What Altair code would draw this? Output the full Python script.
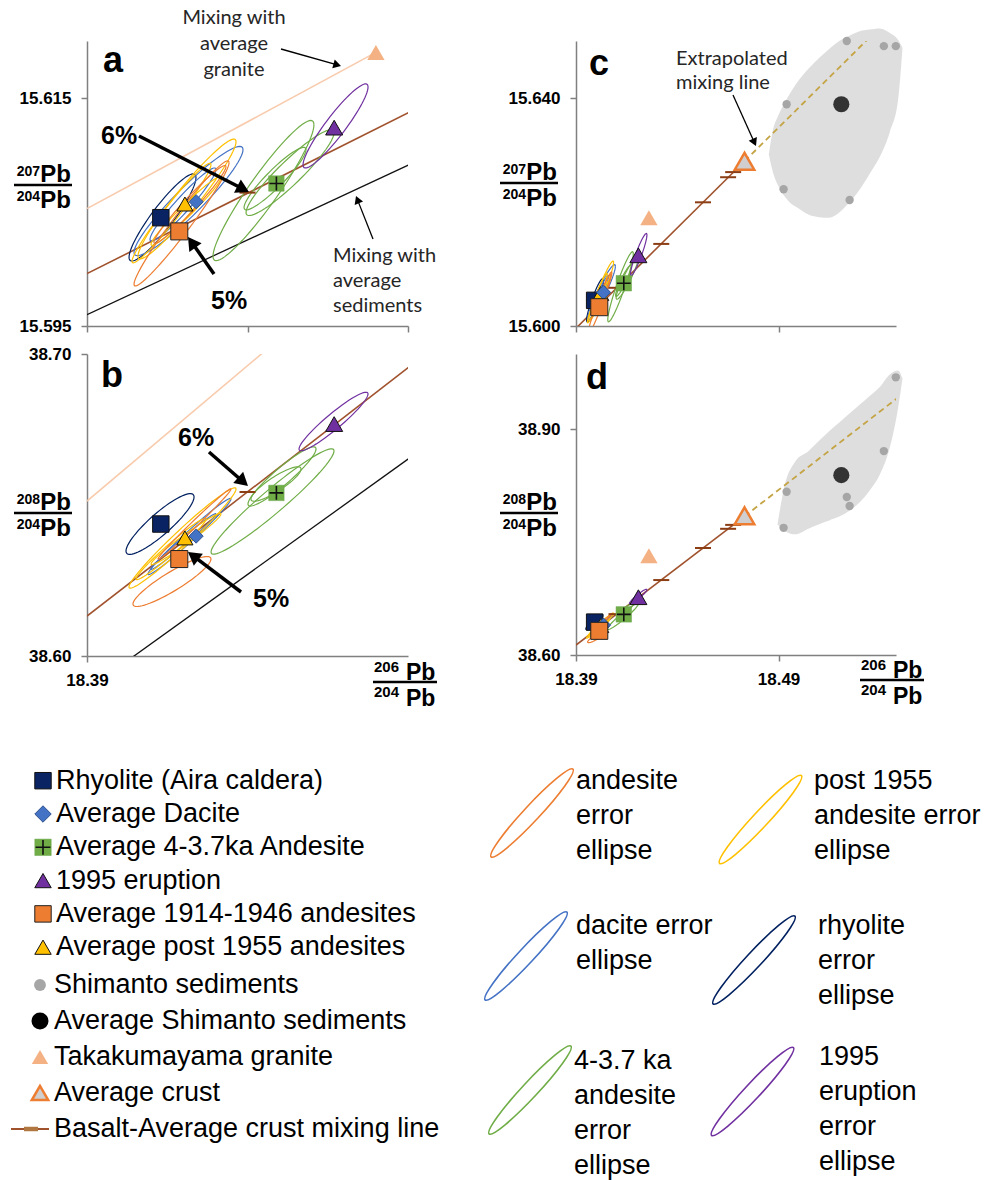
import math
import numpy as np
import pandas as pd
import altair as alt

# ---------------- values ----------------
sample_names = ["Rhyolite (Aira caldera)", "Average Dacite", "Average 4-3.7ka Andesite",
                "1995 eruption", "Average 1914-1946 andesites", "Average post 1955 andesites"]
sample_x = [18.3992, 18.4036, 18.4136, 18.4208, 18.4015, 18.4022]
sample_y207 = [15.6045, 15.6059, 15.6075, 15.6124, 15.6033, 15.6057]
sample_y208 = [38.6437, 38.6397, 38.6540, 38.6768, 38.6321, 38.6391]

sed_x = [18.4925, 18.4940, 18.5237, 18.5251, 18.5420, 18.5479]
sed_y207 = [15.6240, 15.6389, 15.6500, 15.6221, 15.6491, 15.6491]
sed_y208 = [38.769, 38.817, 38.810, 38.798, 38.871, 38.969]

avg_sed_x = [18.5210]
avg_sed_y207 = [15.6389]
avg_sed_y208 = [38.8390]
granite_x = [18.4260]
granite_y207 = [15.6190]
granite_y208 = [38.7320]
crust_x = [18.4732]
crust_y207 = [15.6289]
crust_y208 = [38.7850]

# mixing lines
mix_x = [18.3900, 18.4732]
mix_y207 = [15.5996, 15.6289]
mix_y208 = [38.6132, 38.7843]
extrap_x = [18.4732, 18.5494]
extrap_y207 = [15.6289, 15.6557]
extrap_y208 = [38.7843, 38.9430]
granite_mix_x = [18.3900, 18.4260]
granite_mix_y207 = [15.6053, 15.6190]
granite_mix_y208 = [38.6513, 38.7320]
sed_mix_x = [18.3900, 18.5210]
sed_mix_y207 = [15.5960, 15.6389]
sed_mix_y208 = [38.5888, 38.8390]
mix_tick_x = [18.4100, 18.4321, 18.4527, 18.4651, 18.4676]
mix_tick_y207 = [15.6067, 15.6144, 15.6217, 15.6261, 15.6270]
mix_tick_y208 = [38.6543, 38.6996, 38.7422, 38.7677, 38.7729]

# grey field around the Shimanto sediments
blob207_x = [18.4852, 18.4870, 18.4900, 18.4950, 18.5000, 18.5050, 18.5100, 18.5150, 18.5200,
             18.5250, 18.5300, 18.5350, 18.5400, 18.5450, 18.5490, 18.5512]
blob207_hi = [15.6301, 15.6340, 15.6370, 15.6404, 15.6431, 15.6452, 15.6470, 15.6486, 15.6500,
              15.6509, 15.6517, 15.6520, 15.6522, 15.6514, 15.6502, 15.6488]
blob207_lo = [15.6301, 15.6273, 15.6245, 15.6219, 15.6206, 15.6195, 15.6191, 15.6190, 15.6199,
              15.6217, 15.6239, 15.6267, 15.6297, 15.6341, 15.6396, 15.6488]
blob208_x = [18.4895, 18.4931, 18.4981, 18.5050, 18.5100, 18.5150, 18.5200, 18.5250, 18.5300,
             18.5350, 18.5400, 18.5450, 18.5490, 18.5512]
blob208_hi = [38.7735, 38.8264, 38.8566, 38.8714, 38.8848, 38.8974, 38.9091, 38.9208, 38.9325,
              38.9441, 38.9562, 38.9732, 38.9782, 38.9674]
blob208_lo = [38.7735, 38.7648, 38.7603, 38.7682, 38.7739, 38.7789, 38.7839, 38.7916, 38.8028,
              38.8185, 38.8398, 38.8764, 38.9280, 38.9674]

# error ellipses: centre, half major-axis vector, vertical half-offset
ell_group = ["rhyolite", "dacite", "dacite", "post1955", "post1955", "post1955",
             "andesite", "andesite", "ka", "ka", "ka", "1995"]
ell207_cx = [18.39941, 18.40265, 18.40196, 18.40246, 18.40053, 18.40234, 18.40178, 18.40283, 18.41199, 18.41530, 18.41343, 18.42097]
ell207_cy = [15.60452, 15.60596, 15.60566, 15.60614, 15.60491, 15.60509, 15.60400, 15.60566, 15.60688, 15.60845, 15.60793, 15.61255]
ell207_ux = [0.00417, 0.00679, 0.00411, 0.00611, 0.00492, 0.00436, 0.00592, 0.00449, 0.00629, 0.00548, 0.00386, 0.00405]
ell207_uy = [0.00349, 0.00450, 0.00306, 0.00502, 0.00424, 0.00293, 0.00533, 0.00332, 0.00576, 0.00349, 0.00253, 0.00341]
ell207_vh = [0.00155, 0.00165, 0.00095, 0.00155, 0.00105, 0.00070, 0.00130, 0.00082, 0.00215, 0.00140, 0.00105, 0.00140]
ell208_cx = [18.39910, 18.40277, 18.40202, 18.40190, 18.40047, 18.40234, 18.40059, 18.40340, 18.41312, 18.41430, 18.41355, 18.42072]
ell208_cy = [38.64371, 38.63957, 38.63791, 38.63907, 38.63543, 38.63874, 38.62467, 38.64371, 38.65116, 38.65944, 38.65695, 38.67765]
ell208_ux = [0.00424, 0.00517, 0.00405, 0.00667, 0.00436, 0.00436, 0.00486, 0.00455, 0.00766, 0.00424, 0.00312, 0.00430]
ell208_uy = [0.00894, 0.01242, 0.00910, 0.01623, 0.00993, 0.00828, 0.00745, 0.01159, 0.01672, 0.00911, 0.00497, 0.00911]
ell208_vh = [0.0046, 0.0022, 0.0014, 0.0036, 0.0022, 0.0018, 0.0036, 0.0014, 0.0050, 0.0036, 0.0028, 0.0033]

legend_labels = ["Rhyolite (Aira caldera)", "Average Dacite", "Average 4-3.7ka Andesite", "1995 eruption",
                 "Average 1914-1946 andesites", "Average post 1955 andesites", "Shimanto sediments",
                 "Average Shimanto sediments", "Takakumayama granite", "Average crust",
                 "Basalt-Average crust mixing line"]
ellipse_legend_groups = ["andesite", "dacite", "ka", "post1955", "rhyolite", "1995"]
ellipse_legend_text = [["andesite", "error", "ellipse"], ["dacite error", "ellipse"],
                       ["4-3.7 ka", "andesite", "error", "ellipse"],
                       ["post 1955", "andesite error", "ellipse"], ["rhyolite", "error", "ellipse"],
                       ["1995", "eruption", "error", "ellipse"]]

# ---------------- styles ----------------
ELL_DOMAIN = ["rhyolite", "dacite", "post1955", "andesite", "ka", "1995"]
ELL_RANGE = ["#002060", "#4472C4", "#FFC000", "#ED7D31", "#70AD47", "#7030A0"]
ELL_COL = dict(zip(ELL_DOMAIN, ELL_RANGE))
PLUS = "M-1,0L1,0M0,-1L0,1"
DASH = "M-1,0L1,0"
STY = {
    "Rhyolite (Aira caldera)": dict(shape="square", fill="#0A2463", stroke="#111111", sw=1.0, size=270),
    "Average Dacite": dict(shape="diamond", fill="#4472C4", stroke="#2F528F", sw=1.0, size=200),
    "Average 4-3.7ka Andesite": dict(shape="square", fill="#70AD47", stroke="#6AA84F", sw=0.5, size=240, plus=True),
    "1995 eruption": dict(shape="triangle-up", fill="#7030A0", stroke="#111111", sw=1.0, size=290),
    "Average 1914-1946 andesites": dict(shape="square", fill="#ED7D31", stroke="#222222", sw=1.0, size=290),
    "Average post 1955 andesites": dict(shape="triangle-up", fill="#FFC000", stroke="#111111", sw=1.0, size=260),
    "Shimanto sediments": dict(shape="circle", fill="#A6A6A6", size=70),
    "Average Shimanto sediments": dict(shape="circle", fill="#333333", size=260),
    "Takakumayama granite": dict(shape="triangle-up", fill="#F4B183", size=300),
    "Average crust": dict(shape="triangle-up", fill="#D0CECE", stroke="#ED7D31", sw=2.5, size=380),
}
FONT = "Liberation Sans"
ANN_FONT = "Lato"

one = pd.DataFrame({"k": [0]})


def txt(s, x, y, size, weight="normal", align="left", baseline="alphabetic", font=FONT,
        color="#000000", lh=None):
    kw = dict(text=s, align=align, baseline=baseline, fontSize=size, fontWeight=weight,
              font=font, color=color)
    if lh is not None:
        kw["lineHeight"] = lh
    return alt.Chart(one).mark_text(**kw).encode(x=alt.value(x), y=alt.value(y))


def hrule(x1, x2, y, w, color="#000000"):
    return alt.Chart(one).mark_rule(color=color, strokeWidth=w).encode(
        x=alt.value(x1), x2=alt.value(x2), y=alt.value(y))


def arrow(x1, y1, x2, y2, w, head, color="#000000"):
    dx, dy = x2 - x1, y2 - y1
    L = math.hypot(dx, dy)
    ux, uy = dx / L, dy / L
    off = 0.433 * head
    cx, cy = x2 - ux * off, y2 - uy * off
    ang = math.degrees(math.atan2(ux, -uy)) % 360
    line = alt.Chart(one).mark_rule(color=color, strokeWidth=w).encode(
        x=alt.value(x1), y=alt.value(y1), x2=alt.value(cx), y2=alt.value(cy))
    hd = alt.Chart(one).mark_point(shape="triangle-up", filled=True, fill=color, size=head * head,
                                   angle=ang, opacity=1, strokeOpacity=0).encode(
        x=alt.value(cx), y=alt.value(cy))
    return [line, hd]


def yfrac(xr, ybar, num):
    return [txt("Pb", xr, ybar - 2.7, 24, "bold", "right"),
            txt(num, xr - 31, ybar - 9.3, 14, "bold", "right"),
            hrule(xr - 57, xr + 1, ybar, 2.5),
            txt("Pb", xr, ybar + 23.3, 24, "bold", "right"),
            txt("204", xr - 31, ybar + 15.7, 14, "bold", "right")]


def xfrac(xl, ybar, num):
    return [txt(num, xl, ybar - 10, 15, "bold"),
            txt("Pb", xl + 32, ybar - 2.5, 23, "bold"),
            hrule(xl - 1, xl + 63, ybar, 2.5),
            txt("204", xl, ybar + 15, 15, "bold"),
            txt("Pb", xl + 32, ybar + 23.5, 23, "bold")]


def ellipse_frame(cx, cy, ux, uy, vh):
    t = np.linspace(0, 2 * np.pi, 73)
    frames = []
    for i in range(len(cx)):
        frames.append(pd.DataFrame({
            "eid": i, "grp": ell_group[i], "k": np.arange(len(t)),
            "x": cx[i] + ux[i] * np.cos(t),
            "y": cy[i] + uy[i] * np.cos(t) + vh[i] * np.sin(t)}))
    return pd.concat(frames, ignore_index=True)


def xy(xs, ys):
    return pd.DataFrame({"x": xs, "y": ys})


def build_panel(xsc, ysc, xax, yax, ykey, show_mix_lines, show_far):
    def E(**extra):
        d = dict(x=alt.X("x:Q", scale=xsc, axis=xax, title=None),
                 y=alt.Y("y:Q", scale=ysc, axis=yax, title=None))
        d.update(extra)
        return d

    is207 = ykey == "207"
    sy = sample_y207 if is207 else sample_y208
    layers = []
    if show_far:
        bx, bhi, blo = (blob207_x, blob207_hi, blob207_lo) if is207 else (blob208_x, blob208_hi, blob208_lo)
        bdf = pd.DataFrame({"x": bx, "hi": bhi, "lo": blo})
        layers.append(alt.Chart(bdf).mark_area(color="#DEDEDE", interpolate="monotone", opacity=1).encode(
            x=alt.X("x:Q", scale=xsc, axis=xax, title=None),
            y=alt.Y("hi:Q", scale=ysc, axis=yax, title=None), y2="lo:Q"))
        layers.append(alt.Chart(xy(extrap_x, extrap_y207 if is207 else extrap_y208)).mark_line(
            color="#C4A445", strokeWidth=1.8, strokeDash=[6, 4], clip=True).encode(**E()))
    if show_mix_lines:
        layers.append(alt.Chart(xy(granite_mix_x, granite_mix_y207 if is207 else granite_mix_y208)).mark_line(
            color="#F8CBAD", strokeWidth=1.6, clip=True).encode(**E()))
        layers.append(alt.Chart(xy(sed_mix_x, sed_mix_y207 if is207 else sed_mix_y208)).mark_line(
            color="#111111", strokeWidth=1.3, clip=True).encode(**E()))
    layers.append(alt.Chart(xy(mix_x, mix_y207 if is207 else mix_y208)).mark_line(
        color="#A0522D", strokeWidth=1.6, clip=True).encode(**E()))
    edf = ellipse_frame(ell207_cx, ell207_cy, ell207_ux, ell207_uy, ell207_vh) if is207 else \
        ellipse_frame(ell208_cx, ell208_cy, ell208_ux, ell208_uy, ell208_vh)
    layers.append(alt.Chart(edf).mark_line(strokeWidth=1.2, clip=True).encode(**E(
        detail="eid:N", order="k:Q",
        color=alt.Color("grp:N", scale=alt.Scale(domain=ELL_DOMAIN, range=ELL_RANGE), legend=None))))
    layers.append(alt.Chart(xy(mix_tick_x, mix_tick_y207 if is207 else mix_tick_y208)).mark_point(
        shape=DASH, filled=False, stroke="#8B3E14", strokeWidth=2, size=256, opacity=1, clip=True).encode(**E()))

    def mk(df, name, clip=False):
        s = STY[name]
        kw = dict(shape=s["shape"], filled=True, fill=s["fill"], size=s["size"], opacity=1, clip=clip)
        if "stroke" in s:
            kw.update(stroke=s["stroke"], strokeWidth=s["sw"])
        else:
            kw.update(strokeOpacity=0)
        out = [alt.Chart(df).mark_point(**kw).encode(**E())]
        if s.get("plus"):
            out.append(alt.Chart(df).mark_point(shape=PLUS, filled=False, stroke="#111111",
                                                strokeWidth=1.6, size=s["size"] * 0.8,
                                                opacity=1).encode(**E()))
        return out

    if show_far:
        layers += mk(xy(sed_x, sed_y207 if is207 else sed_y208), "Shimanto sediments")
        layers += mk(xy(avg_sed_x, avg_sed_y207 if is207 else avg_sed_y208), "Average Shimanto sediments")
        layers += mk(xy(crust_x, crust_y207 if is207 else crust_y208), "Average crust")
    layers += mk(xy(granite_x, granite_y207 if is207 else granite_y208), "Takakumayama granite", clip=True)
    for i in [0, 5, 1, 2, 3, 4]:
        layers += mk(xy([sample_x[i]], [sy[i]]), sample_names[i])
    return layers


sc = dict(nice=False, zero=False)
XA = alt.Scale(domain=[18.39, 18.43], **sc)
YA = alt.Scale(domain=[15.595, 15.62], **sc)
YB = alt.Scale(domain=[38.60, 38.70], **sc)
XC = alt.Scale(domain=[18.39, 18.548], **sc)
YC = alt.Scale(domain=[15.600, 15.650], **sc)
YD = alt.Scale(domain=[38.60, 39.00], **sc)

ax_xa = alt.Axis(values=[18.39, 18.41, 18.43], labels=False, grid=False)
ax_ya = alt.Axis(values=[15.595, 15.615], format=".3f", grid=False)
ax_xb = alt.Axis(values=[18.39], format=".2f", grid=False)
ax_yb = alt.Axis(values=[38.60, 38.70], format=".2f", grid=False)
ax_xc = alt.Axis(values=[18.39, 18.49], labels=False, grid=False)
ax_yc = alt.Axis(values=[15.600, 15.640], format=".3f", grid=False)
ax_xd = alt.Axis(values=[18.39, 18.49], format=".2f", grid=False)
ax_yd = alt.Axis(values=[38.60, 38.90], format=".2f", grid=False)

# ---- panel a ----
la = build_panel(XA, YA, ax_xa, ax_ya, "207", True, False)
la += [txt("a", 16, 31, 36, "bold"),
       txt(["Mixing with", "average", "granite"], 147, -17, 20, align="center", font=ANN_FONT, color="#262626", lh=26),
       txt(["Mixing with", "average", "sediments"], 246, 221, 20, font=ANN_FONT, color="#262626", lh=25),
       txt("6%", 14, 103, 25, "bold"), txt("5%", 124, 268, 25, "bold")]
la += arrow(194, 8, 254, 25, 1.3, 9) + arrow(286, 198, 269, 155, 1.3, 9)
la += arrow(52, 95, 162, 151, 3.5, 15) + arrow(127, 233, 101, 196, 3.5, 15)
la += yfrac(-16, 144, "207")
pa = alt.layer(*la).properties(width=321, height=285)

# ---- panel b ----
lb = build_panel(XA, YB, ax_xb, ax_yb, "208", True, False)
lb += [txt("b", 14, 33, 36, "bold"), txt("6%", 91, 92, 25, "bold"), txt("5%", 166, 253, 25, "bold")]
lb += arrow(122, 98, 161, 132, 3.5, 15) + arrow(154, 238, 101, 198, 3.5, 15)
lb += yfrac(-16, 159, "208") + xfrac(287, 328, "206")
pb = alt.layer(*lb).properties(width=321, height=302)

# ---- panel c ----
lc = build_panel(XC, YC, ax_xc, ax_yc, "207", False, True)
lc += [txt("c", 13, 34, 36, "bold"),
       txt(["Extrapolated", "mixing line"], 100, 23.7, 20, font=ANN_FONT, color="#262626", lh=24)]
lc += arrow(157, 54, 180, 105, 1.3, 9)
lc += yfrac(-19, 142, "207")
pc = alt.layer(*lc).properties(width=320, height=285)

# ---- panel d ----
ld = build_panel(XC, YD, ax_xd, ax_yd, "208", False, True)
ld += [txt("d", 10, 35, 36, "bold")]
ld += yfrac(-19, 159, "208") + xfrac(285, 326, "206")
pd_ = alt.layer(*ld).properties(width=320, height=301)

# ---- left legend (symbols) ----
ll = []
for i, lab in enumerate(legend_labels):
    yy = 96.7 + 33.3 * i if i < 6 else 301 + 36 * (i - 6)
    if lab in STY:
        s = STY[lab]
        mx = -44 if i < 6 else -47
        fill = "#000000" if lab == "Average Shimanto sediments" else s["fill"]
        size = {"Shimanto sediments": 140, "Average Shimanto sediments": 290}.get(lab, 270)
        kw = dict(shape=s["shape"], filled=True, fill=fill, size=size, opacity=1)
        if "stroke" in s:
            kw.update(stroke=s["stroke"], strokeWidth=s["sw"])
        else:
            kw.update(strokeOpacity=0)
        ll.append(alt.Chart(one).mark_point(**kw).encode(x=alt.value(mx), y=alt.value(yy)))
        if s.get("plus"):
            ll.append(alt.Chart(one).mark_point(shape=PLUS, filled=False, stroke="#111111", strokeWidth=1.6,
                                                size=220, opacity=1).encode(x=alt.value(mx), y=alt.value(yy)))
        tx = -31 if i < 6 else -33
    else:
        ll.append(hrule(-76, -38, yy, 2, "#A0522D"))
        ll.append(hrule(-63, -49, yy, 4.5, "#B07840"))
        tx = -33
    ll.append(txt(lab, tx, yy, 27, baseline="middle"))
legL = alt.layer(*ll).properties(width=321, height=470)

# ---- right legend (error ellipses) ----
K, KAP = 0.13, 0.5523
ELL_PATH = (f"M1,0 C1,{K*KAP:.4f} {KAP:.4f},{K} 0,{K} C{-KAP:.4f},{K} -1,{K*KAP:.4f} -1,0 "
            f"C-1,{-K*KAP:.4f} {-KAP:.4f},{-K} 0,{-K} C{KAP:.4f},{-K} 1,{-K*KAP:.4f} 1,0 Z")
icon_pos = [(-44, 129), (-50, 272), (-46, 406), (184.5, 135.5), (178, 276), (176.5, 407.5)]
text_pos = [(0, 96.7), (0, 241.7), (-2, 376.7), (238, 96.7), (242, 241.7), (243, 373)]
lr = []
for g, lines, (ix, iy), (tx, ty) in zip(ellipse_legend_groups, ellipse_legend_text, icon_pos, text_pos):
    lr.append(alt.Chart(one).mark_point(shape=ELL_PATH, filled=False, stroke=ELL_COL[g], strokeWidth=1.6,
                                        size=14400, angle=313, opacity=1).encode(x=alt.value(ix), y=alt.value(iy)))
    for j, line in enumerate(lines):
        lr.append(txt(line, tx, ty + 35 * j, 27, baseline="middle"))
legR = alt.layer(*lr).properties(width=320, height=470)

chart = alt.concat(
    pa, pc, pb, pd_, legL, legR,
    columns=2, spacing={"row": 28, "column": 168}, bounds="flush", align="each"
).properties(
    padding={"left": 10, "top": 8, "right": 5, "bottom": 5}
).configure_view(stroke=None).configure_axis(
    domainColor="#808080", domainWidth=1.5, tickColor="#808080", tickWidth=1.5, tickSize=6,
    labelFont=FONT, labelFontSize=17, labelFontWeight="bold", labelColor="#000000",
    grid=False, labelFlush=False, labelPadding=10
)

chart.save("out.html", embed_options={"renderer": "svg", "actions": False})
